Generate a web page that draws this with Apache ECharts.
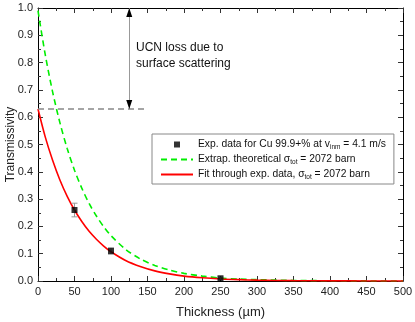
<!DOCTYPE html>
<html><head><meta charset="utf-8">
<script src="https://cdn.jsdelivr.net/npm/echarts@6/dist/echarts.min.js"></script>
<style>html,body{margin:0;padding:0;background:#fff}#c{width:415px;height:322px}</style>
</head><body><div id="c"></div>
<script>
// thickness grid (µm) for curves
const thickness = [0,10,20,30,40,50,60,70,80,90,100,120,140,160,180,200,225,250,275,300,350,400,450,500];
// extrapolated theoretical curve (green dashed)
const theoretical = [0.99,0.828,0.693,0.580,0.485,0.406,0.340,0.284,0.238,0.199,0.166,0.116,0.081,0.057,0.040,0.028,0.018,0.011,0.007,0.005,0.002,0.001,0.0003,0.0001];
// fit through experimental data (red)
const fitCurve = [0.63,0.527,0.442,0.370,0.310,0.260,0.218,0.182,0.153,0.128,0.107,0.075,0.053,0.037,0.026,0.018,0.0117,0.0075,0.0049,0.0031,0.0013,0.0005,0.0002,0.0001];
// experimental data
const expThickness = [50, 100, 250];
const expValue = [0.26, 0.11, 0.01];
const expError = [0.025, 0.012, 0.004];
// annotation values
const lossLevel = 0.63;
const lossArrowX = 125;
const lossLineEnd = 150;
const xTicks = {min: 0, max: 500, interval: 50};
const yTicks = {min: 0, max: 1, interval: 0.1};

const FONT = 'Liberation Sans, Arial, sans-serif';
const chart = echarts.init(document.getElementById('c'), null, {renderer: 'canvas'});

const pair = (xs, ys) => xs.map((x, i) => [x, ys[i]]);

const axisCommon = {
  axisLine: {show: true, onZero: false, lineStyle: {color: '#000', width: 1}},
  axisTick: {show: true, inside: true, length: 5, lineStyle: {color: '#333'}},
  minorTick: {show: true, splitNumber: 2, length: 3, lineStyle: {color: '#333'}},
  splitLine: {show: false},
  minorSplitLine: {show: false}
};

const option = {
  animation: false,
  textStyle: {fontFamily: FONT},
  grid: {left: 38, right: 12, top: 8, bottom: 41, containLabel: false, outerBoundsMode: 'none'},
  xAxis: [
    Object.assign({}, axisCommon, {
      type: 'value', position: 'bottom', min: xTicks.min, max: xTicks.max, interval: xTicks.interval,
      name: 'Thickness (µm)', nameLocation: 'middle', nameGap: 25, nameMoveOverlap: false,
      nameTextStyle: {fontFamily: FONT, fontSize: 13, color: '#222'},
      axisLabel: {fontFamily: FONT, fontSize: 11, color: '#222', margin: 5}
    }),
    Object.assign({}, axisCommon, {
      type: 'value', position: 'top', min: xTicks.min, max: xTicks.max, interval: xTicks.interval,
      axisLabel: {show: false}
    })
  ],
  yAxis: [
    Object.assign({}, axisCommon, {
      type: 'value', position: 'left', min: yTicks.min, max: yTicks.max, interval: yTicks.interval,
      name: 'Transmissivity', nameLocation: 'middle', nameGap: 21, nameMoveOverlap: false,
      nameTextStyle: {fontFamily: FONT, fontSize: 12, color: '#222'},
      axisLabel: {fontFamily: FONT, fontSize: 11, color: '#222', margin: 5, formatter: v => v.toFixed(1)}
    }),
    Object.assign({}, axisCommon, {
      type: 'value', position: 'right', min: yTicks.min, max: yTicks.max, interval: yTicks.interval,
      axisLabel: {show: false}
    })
  ],
  legend: {
    orient: 'vertical', left: 152, top: 134,
    padding: [4, 8, 3, 8],
    itemWidth: 32, itemHeight: 6, itemGap: 2,
    backgroundColor: '#fff', borderColor: '#888', borderWidth: 1,
    textStyle: {
      fontFamily: FONT, fontSize: 10.3, color: '#111', lineHeight: 13,
      rich: {
        n: {fontFamily: FONT, fontSize: 10.3, color: '#111'},
        sub: {fontFamily: FONT, fontSize: 6.5, color: '#111', verticalAlign: 'bottom', padding: [4, 0, 0, 0]}
      }
    },
    data: [
      {name: 'exp', icon: 'path://M0,0H10V10H0Z'},
      {name: 'theo', itemStyle: {opacity: 0}},
      {name: 'fit', itemStyle: {opacity: 0}}
    ],
    formatter: function (name) {
      if (name === 'exp') return '{n|Exp. data for Cu 99.9+% at v}{sub|inm}{n| = 4.1 m/s}';
      if (name === 'theo') return '{n|Extrap. theoretical σ}{sub|tot}{n| = 2072 barn}';
      return '{n|Fit through exp. data, σ}{sub|tot}{n| = 2072 barn}';
    }
  },
  graphic: [
    {type: 'text', left: 136, top: 40, silent: true,
     style: {text: 'UCN loss due to\nsurface scattering', fontFamily: FONT, fontSize: 12, lineHeight: 15.5, fill: '#111'}}
  ],
  series: [
    {
      name: 'theo', type: 'line', data: pair(thickness, theoretical),
      showSymbol: false, symbol: 'none', smooth: 0.3,
      lineStyle: {color: '#00ee00', width: 1.6, type: [6, 4]},
      itemStyle: {color: '#00ee00'}, z: 3
    },
    {
      name: 'fit', type: 'line', data: pair(thickness, fitCurve),
      showSymbol: false, symbol: 'none', smooth: 0.3,
      lineStyle: {color: '#ff0000', width: 1.6},
      itemStyle: {color: '#ff0000'}, z: 4,
      markLine: {
        silent: true, symbol: 'none', animation: false,
        label: {show: false},
        data: [
          [{coord: [0, lossLevel], lineStyle: {color: '#888', width: 1.5, type: [6, 4]}}, {coord: [lossLineEnd, lossLevel]}],
          [{coord: [lossArrowX, 1.0], lineStyle: {color: '#999', width: 1, type: 'solid'}}, {coord: [lossArrowX, lossLevel]}]
        ]
      },
      markPoint: {
        silent: true, animation: false,
        label: {show: false},
        data: [
          {coord: [lossArrowX, 1.0], symbol: 'triangle', symbolSize: [6, 9], symbolOffset: [0, 4.5], itemStyle: {color: '#000'}},
          {coord: [lossArrowX, lossLevel], symbol: 'triangle', symbolSize: [6, 9], symbolRotate: 180, symbolOffset: [0, -4.5], itemStyle: {color: '#000'}}
        ]
      }
    },
    {
      name: 'errbars', type: 'custom', z: 5,
      data: expThickness.map((x, i) => [x, expValue[i] - expError[i], expValue[i] + expError[i]]),
      renderItem: function (params, api) {
        const lo = api.coord([api.value(0), api.value(1)]);
        const hi = api.coord([api.value(0), api.value(2)]);
        const w = 3;
        const st = {stroke: '#999', lineWidth: 1};
        return {type: 'group', children: [
          {type: 'line', shape: {x1: lo[0], y1: lo[1], x2: hi[0], y2: hi[1]}, style: st},
          {type: 'line', shape: {x1: lo[0] - w, y1: lo[1], x2: lo[0] + w, y2: lo[1]}, style: st},
          {type: 'line', shape: {x1: hi[0] - w, y1: hi[1], x2: hi[0] + w, y2: hi[1]}, style: st}
        ]};
      },
      encode: {x: 0, y: [1, 2]}
    },
    {
      name: 'exp', type: 'scatter', data: pair(expThickness, expValue),
      symbol: 'rect', symbolSize: 6, itemStyle: {color: '#000'}, z: 6
    }
  ]
};
chart.setOption(option);
</script>
</body></html>
